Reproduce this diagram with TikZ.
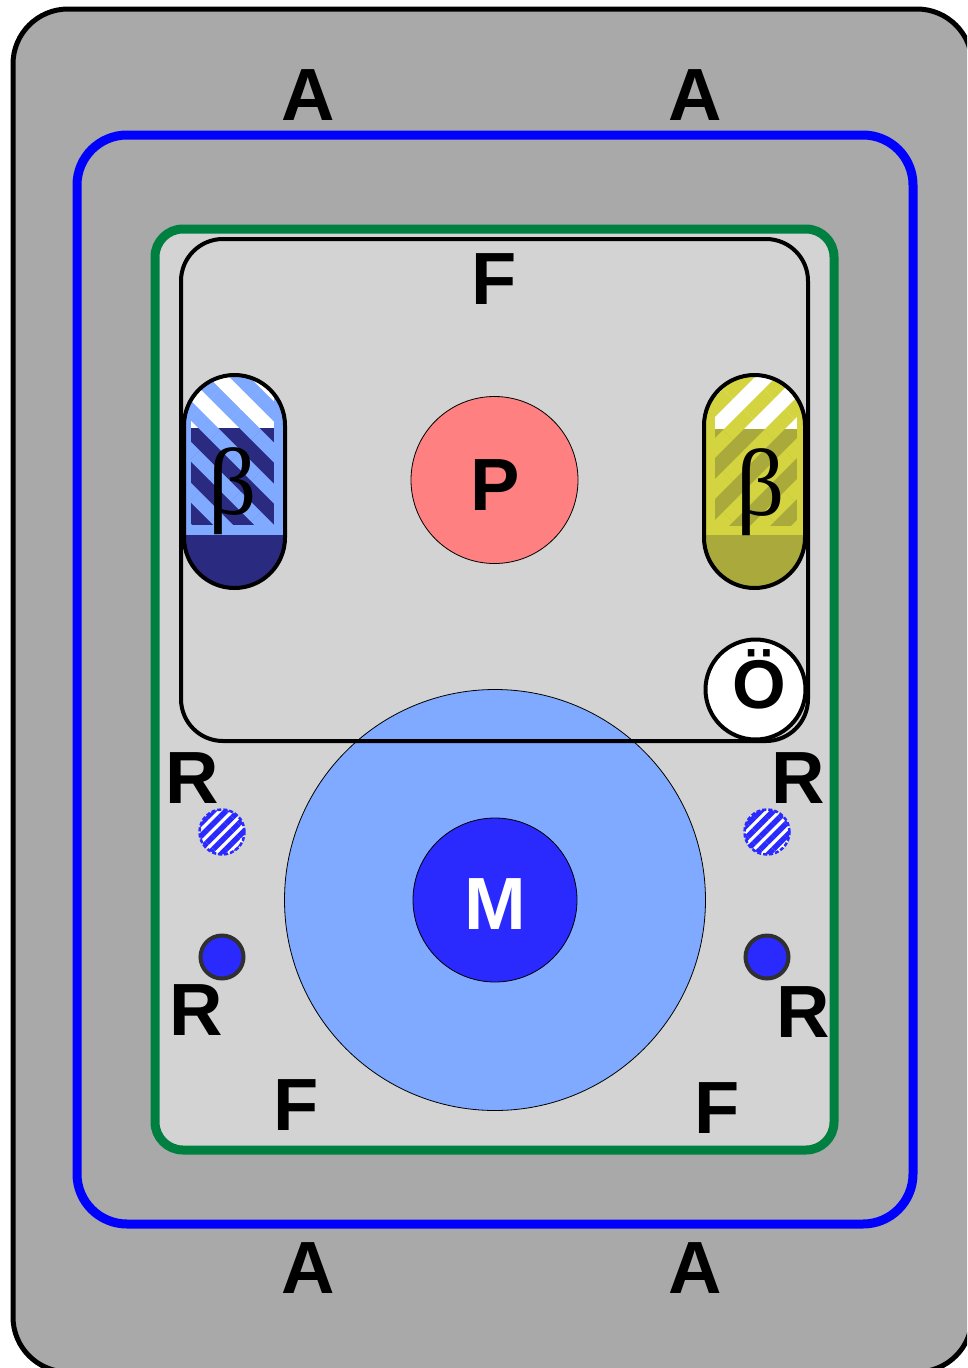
\documentclass[tikz,border=0pt]{standalone}
\usepackage{fontspec}
\newfontfamily\lsans{Liberation Sans}
\newfontfamily\lserif{Liberation Serif}
\usetikzlibrary{patterns.meta}
\definecolor{outergray}{RGB}{169,169,169}
\definecolor{innergray}{RGB}{211,211,211}
\definecolor{ringblue}{RGB}{0,0,255}
\definecolor{ringgreen}{RGB}{0,128,64}
\definecolor{lblue}{RGB}{128,170,255}
\definecolor{capnavy}{RGB}{42,42,128}
\definecolor{mblue}{RGB}{42,42,255}
\definecolor{psalmon}{RGB}{255,128,128}
\definecolor{capyel}{RGB}{212,212,64}
\definecolor{capolive}{RGB}{170,170,60}
\definecolor{rborder}{RGB}{48,48,48}
\tikzset{
  lbl/.style={font=\fontsize{74}{80}\selectfont\lsans\bfseries, inner sep=0pt},
  betalbl/.style={font=\fontsize{95}{96}\selectfont\lserif, inner sep=0pt},
  solidr/.style={circle, minimum size=43pt, inner sep=0pt, fill=mblue, draw=rborder, line width=4pt},
  hatchr/.style={circle, minimum size=45pt, inner sep=0pt, fill=white},
  hatchfill/.style={pattern={Lines[angle=45,distance=9pt,line width=5.5pt]}, pattern color=mblue},
  hatchedge/.style={draw=mblue, line width=2.5pt, dash pattern=on 4pt off 2pt},
  capborder/.style={draw=black, line width=4pt, rounded corners=50.5pt},
}
\begin{document}
\begin{tikzpicture}[x=1pt,y=-1pt]
\useasboundingbox (0,0) rectangle (967,1368);
\clip (0,0) rectangle (967,1368);
% outer frame
\draw[fill=outergray, draw=black, line width=5pt, rounded corners=55pt] (13,9) rectangle (972,1372);
% blue frame
\draw[draw=ringblue, line width=9pt, rounded corners=50pt] (77,135) rectangle (913,1224);
% green frame
\draw[fill=innergray, draw=ringgreen, line width=9pt, rounded corners=28pt] (155,229) rectangle (834,1150);
% big circle and M
\node[circle, minimum size=421pt, inner sep=0pt, fill=lblue, draw=black, line width=0.8pt] (big) at (495,900) {};
\node[circle, minimum size=164pt, inner sep=0pt, fill=mblue, draw=black, line width=0.8pt] (mc) at (495,900) {};
\node[lbl, text=white] (mt) at (495,904) {M};
% inner black frame
\draw[draw=black, line width=4pt, rounded corners=42pt] (181,239) rectangle (808,741);
% P
\node[circle, minimum size=167pt, inner sep=0pt, fill=psalmon, draw=black, line width=0.8pt] (pc) at (494.5,480) {};
\node[lbl] (pt) at (495,485) {P};
% left capsule
\begin{scope}
\clip[rounded corners=50.5pt] (184,375) rectangle (285,588);
\fill[lblue] (184,375) rectangle (285,588);
\fill[capnavy] (184,535) rectangle (285,588);
\fill[white] (191,375) rectangle (274,428);
\fill[capnavy] (191,428) rectangle (274,525);
\fill[pattern={Lines[angle=-45,distance=29pt,line width=14pt]}, pattern color=lblue] (191,375) rectangle (274,525);
\end{scope}
\draw[capborder] (184,375) rectangle (285,588);
\node[betalbl] (bl) at (233,491) {β};
% right capsule
\begin{scope}
\clip[rounded corners=50.5pt] (704,375) rectangle (805,588);
\fill[capyel] (704,375) rectangle (805,588);
\fill[capolive] (704,535) rectangle (805,588);
\fill[white] (715,375) rectangle (797,429);
\fill[capolive] (715,429) rectangle (797,526);
\fill[pattern={Lines[angle=45,distance=29pt,line width=14pt]}, pattern color=capyel] (715,375) rectangle (797,526);
\end{scope}
\draw[capborder] (704,375) rectangle (805,588);
\node[betalbl] (br) at (761,492) {β};
% O-umlaut
\node[circle, minimum size=100pt, inner sep=0pt, fill=white, draw=black, line width=4pt] (oc) at (755.5,689.5) {};
\node[font=\fontsize{69}{70}\selectfont\lsans\bfseries, inner sep=0pt] (ot) at (759,679) {Ö};
% R markers
\node[hatchr] (h1) at (222,832) {};
\fill[hatchfill] (h1.center) circle (22.5pt);
\draw[hatchedge] (h1.center) circle (22.5pt);
\node[hatchr] (h2) at (767,832) {};
\fill[hatchfill] (h2.center) circle (22.5pt);
\draw[hatchedge] (h2.center) circle (22.5pt);
\node[solidr] (s1) at (222,957) {};
\node[solidr] (s2) at (767,957) {};
% labels
\node[lbl] (a1) at (308,95) {A};
\node[lbl] (a2) at (695,95) {A};
\node[lbl] (a3) at (308,1268) {A};
\node[lbl] (a4) at (695,1268) {A};
\node[lbl] (f1) at (494,279) {F};
\node[lbl] (f2) at (296,1105) {F};
\node[lbl] (f3) at (717,1108) {F};
\node[lbl] (r1) at (192,778) {R};
\node[lbl] (r2) at (798,778) {R};
\node[lbl] (r3) at (196,1010) {R};
\node[lbl] (r4) at (803,1012) {R};
\end{tikzpicture}
\end{document}
